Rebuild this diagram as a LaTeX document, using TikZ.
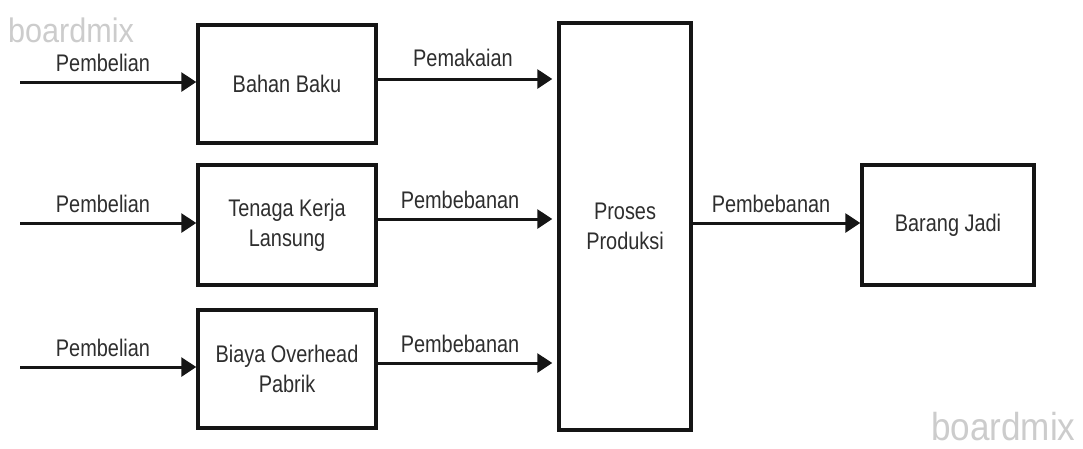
\documentclass[tikz,border=0pt]{standalone}
\usepackage{fontspec}
\setmainfont{Liberation Sans}[FakeStretch=0.83]
\newfontfamily\wmfont{Liberation Sans}[FakeStretch=0.9]
\usetikzlibrary{arrows.meta,calc}
\definecolor{linec}{HTML}{151515}
\definecolor{txt}{HTML}{2E2E2E}
\definecolor{wmgray}{HTML}{CCCCCC}
\tikzset{
  lbl/.style={font=\fontsize{24}{30}\selectfont, text=txt},
  box/.style={draw=linec, line width=3.5pt, inner sep=0pt, align=center, lbl},
  flow/.style={draw=linec, line width=3pt, -{Triangle[length=15pt,width=19pt]}},
  flowlabel/.style={lbl, anchor=base, inner sep=0pt},
  wm/.style={text=wmgray, anchor=base west, inner sep=0pt}
}
\begin{document}
\begin{tikzpicture}[x=1pt,y=-1pt]
\useasboundingbox (0,0) rectangle (1083,448);
\fill[white] (0,0) rectangle (1083,448);

% cost components
\node[box, minimum width=178pt, minimum height=118pt] (bb) at (287,84) {\raisebox{-3pt}{Bahan Baku}};
\node[box, minimum width=178pt, minimum height=120pt] (tk) at (287,225) {Tenaga Kerja\\Lansung};
\node[box, minimum width=178pt, minimum height=118pt] (bop) at (287,369) {Biaya Overhead\\Pabrik};
% production and output
\node[box, minimum width=132pt, minimum height=407pt] (pp) at (625,226.5) {Proses\\Produksi};
\node[box, minimum width=172pt, minimum height=120pt] (bj) at (948,225) {Barang Jadi};

% purchase inflows
\coordinate (in1) at (20,82);
\coordinate (in2) at (20,223);
\coordinate (in3) at (20,367);
\draw[flow] (in1) -- (in1 -| bb.west);
\draw[flow] (in2) -- (in2 -| tk.west);
\draw[flow] (in3) -- (in3 -| bop.west);
\node[flowlabel] (l1) at (103,71) {Pembelian};
\node[flowlabel] (l2) at (103,212) {Pembelian};
\node[flowlabel] (l3) at (103,356) {Pembelian};

% charges into production
\coordinate (o1) at ($(bb.east)+(0,-5)$);
\coordinate (o2) at ($(tk.east)+(0,-6)$);
\coordinate (o3) at ($(bop.east)+(0,-6)$);
\draw[flow, shorten >=5pt] (o1) -- (o1 -| pp.west);
\draw[flow, shorten >=5pt] (o2) -- (o2 -| pp.west);
\draw[flow, shorten >=5pt] (o3) -- (o3 -| pp.west);
\node[flowlabel] (m1) at (463,66) {Pemakaian};
\node[flowlabel] (m2) at (460,208) {Pembebanan};
\node[flowlabel] (m3) at (460,352) {Pembebanan};

% finished goods
\coordinate (o4) at (pp.east |- 0,223);
\draw[flow] (o4) -- (o4 -| bj.west);
\node[flowlabel] (m4) at (771,212) {Pembebanan};

% watermarks
\node[wm, font=\wmfont\fontsize{34}{34}\selectfont] (wm1) at (8,42) {boardmix};
\node[wm, font=\wmfont\fontsize{39}{39}\selectfont] (wm2) at (931,440) {boardmix};
\end{tikzpicture}
\end{document}
